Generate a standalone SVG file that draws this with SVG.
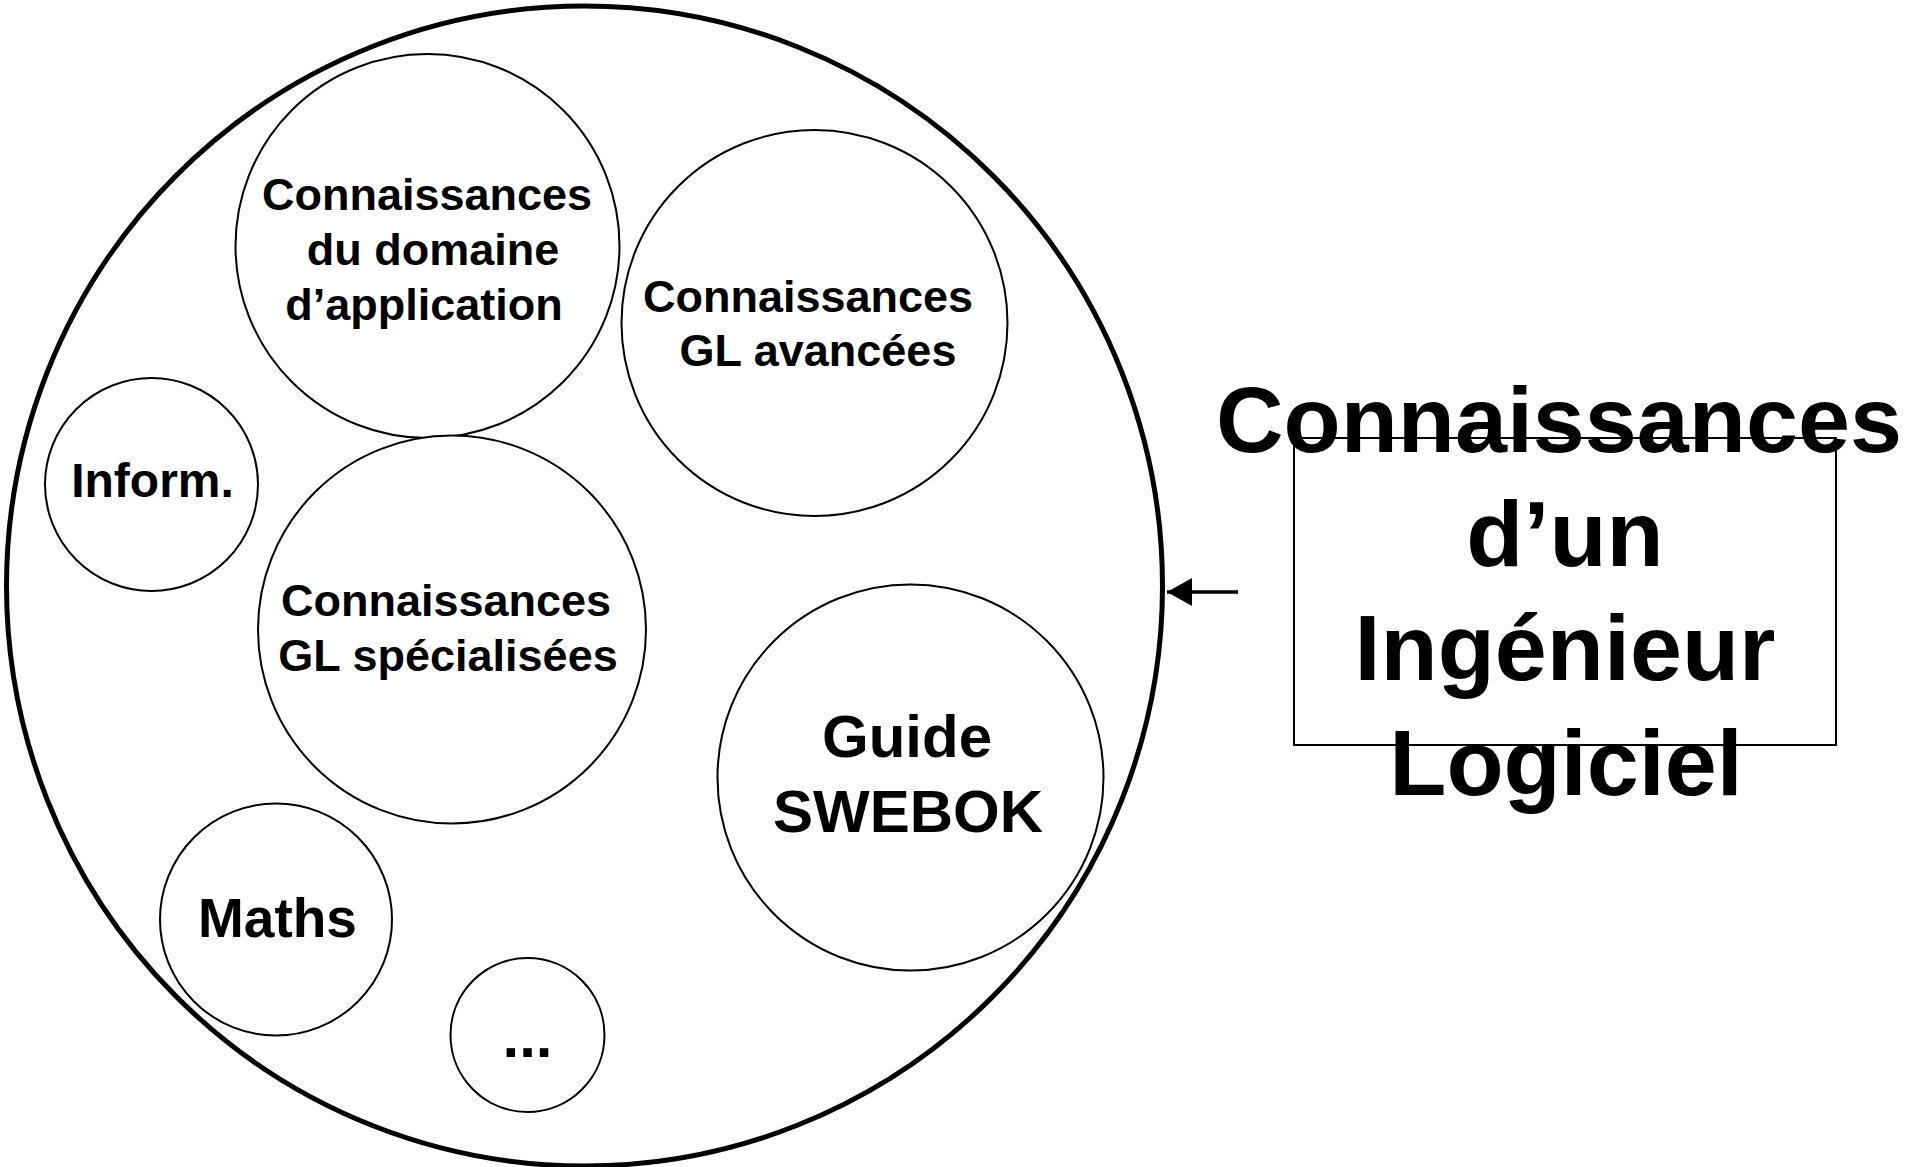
<svg xmlns="http://www.w3.org/2000/svg" width="1909" height="1167" viewBox="0 0 1909 1167">
<style>
  .big { fill: #fff; stroke: #000; stroke-width: 5; }
  .node { fill: #fff; stroke: #000; stroke-width: 2; }
  .t { font-family: "Liberation Sans", Arial, sans-serif; font-weight: bold; fill: #000; text-anchor: middle; }
  .s45 { font-size: 45px; }
  .s48 { font-size: 48px; }
  .s55 { font-size: 55px; }
  .s60 { font-size: 60px; }
  .s93 { font-size: 93.5px; }
</style>
<defs>
  <marker id="arrow" markerWidth="26" markerHeight="28" refX="25" refY="14" orient="auto" markerUnits="userSpaceOnUse">
    <path d="M0,0 L25,14 L0,28 Z" fill="#000"/>
  </marker>
</defs>
<rect width="1909" height="1167" fill="#fff"/>
<g id="outer">
  <ellipse class="big" cx="584.5" cy="586" rx="578" ry="580"/>
</g>
<g id="domaine">
  <circle class="node" cx="427.5" cy="246" r="192"/>
  <text class="t s45" x="427" y="210">Connaissances</text>
  <text class="t s45" x="433" y="265">du domaine</text>
  <text class="t s45" x="424" y="320">d’application</text>
</g>
<g id="avancees">
  <circle class="node" cx="814.5" cy="323" r="193"/>
  <text class="t s45" x="808" y="312">Connaissances</text>
  <text class="t s45" x="818" y="366">GL avancées</text>
</g>
<g id="inform">
  <circle class="node" cx="151.5" cy="484.5" r="106.5"/>
  <text class="t s48" x="152.5" y="497">Inform.</text>
</g>
<g id="specialisees">
  <circle class="node" cx="452" cy="629.5" r="194"/>
  <text class="t s45" x="446" y="616">Connaissances</text>
  <text class="t s45" x="448" y="671">GL spécialisées</text>
</g>
<g id="swebok">
  <circle class="node" cx="910.5" cy="777.5" r="193"/>
  <text class="t s60" x="907" y="757">Guide</text>
  <text class="t s60" x="908" y="832">SWEBOK</text>
</g>
<g id="maths">
  <circle class="node" cx="276" cy="919.5" r="116"/>
  <text class="t s55" x="277.5" y="937">Maths</text>
</g>
<g id="etc">
  <circle class="node" cx="527.5" cy="1035" r="77"/>
  <text class="t s60" x="527.5" y="1057">...</text>
</g>
<g id="title">
  <rect x="1294" y="438" width="542" height="307" fill="none" stroke="#000" stroke-width="2"/>
  <text class="t s93" x="1559" y="452">Connaissances</text>
  <text class="t s93" x="1565" y="566">d’un</text>
  <text class="t s93" x="1565" y="680">Ingénieur</text>
  <text class="t s93" x="1566" y="795">Logiciel</text>
</g>
<g id="connectors">
  <line x1="1238" y1="592" x2="1167" y2="592" stroke="#000" stroke-width="3.5" marker-end="url(#arrow)"/>
</g>
</svg>
